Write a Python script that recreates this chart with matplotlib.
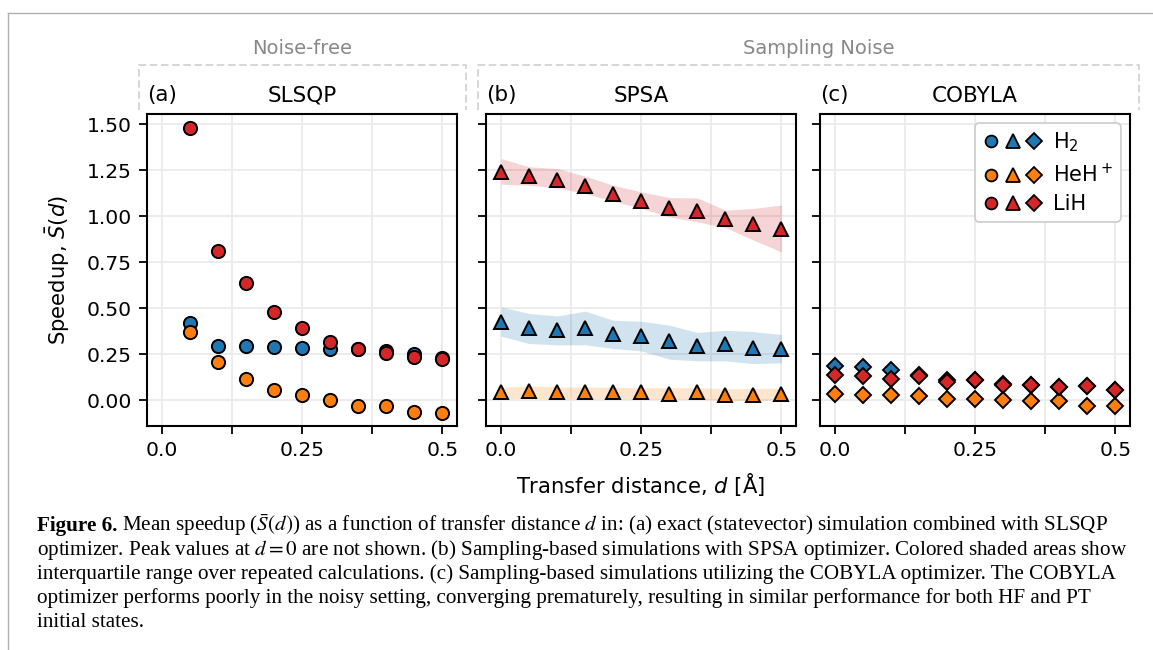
import matplotlib
matplotlib.use("Agg")
import matplotlib.pyplot as plt
from matplotlib.lines import Line2D
from matplotlib.legend_handler import HandlerTuple

# ---------------- data ----------------
d_slsqp = [0.05, 0.10, 0.15, 0.20, 0.25, 0.30, 0.35, 0.40, 0.45, 0.50]
slsqp_h2 = [0.417, 0.295, 0.292, 0.290, 0.284, 0.281, 0.276, 0.265, 0.252, 0.228]
slsqp_heh = [0.370, 0.210, 0.116, 0.058, 0.029, 0.000, -0.029, -0.033, -0.065, -0.069]
slsqp_lih = [1.480, 0.810, 0.638, 0.482, 0.390, 0.315, 0.279, 0.255, 0.234, 0.225]

d_noisy = [0.00, 0.05, 0.10, 0.15, 0.20, 0.25, 0.30, 0.35, 0.40, 0.45, 0.50]
spsa_h2 = [0.426, 0.395, 0.384, 0.393, 0.362, 0.348, 0.321, 0.295, 0.304, 0.286, 0.281]
spsa_h2_q3 = [0.507, 0.471, 0.458, 0.484, 0.435, 0.429, 0.408, 0.368, 0.380, 0.373, 0.357]
spsa_h2_q1 = [0.348, 0.308, 0.301, 0.301, 0.281, 0.268, 0.223, 0.214, 0.214, 0.199, 0.203]
spsa_heh = [0.042, 0.051, 0.045, 0.047, 0.042, 0.042, 0.036, 0.045, 0.027, 0.029, 0.036]
spsa_heh_q3 = [0.070, 0.078, 0.072, 0.072, 0.070, 0.068, 0.068, 0.068, 0.062, 0.064, 0.066]
spsa_heh_q1 = [0.010, 0.010, 0.008, 0.008, 0.008, 0.006, 0.006, 0.006, -0.004, -0.002, 0.002]
spsa_lih = [1.241, 1.217, 1.197, 1.165, 1.123, 1.085, 1.043, 1.027, 0.985, 0.955, 0.931]
spsa_lih_q3 = [1.313, 1.268, 1.259, 1.217, 1.168, 1.132, 1.101, 1.099, 1.033, 1.042, 1.060]
spsa_lih_q1 = [1.174, 1.168, 1.154, 1.123, 1.082, 1.042, 0.996, 0.969, 0.938, 0.870, 0.806]

cobyla_h2 = [0.186, 0.181, 0.163, 0.135, 0.108, 0.110, 0.088, 0.085, 0.072, 0.078, 0.058]
cobyla_heh = [0.033, 0.027, 0.030, 0.025, 0.007, 0.007, 0.000, -0.002, -0.005, -0.029, -0.029]
cobyla_lih = [0.136, 0.132, 0.118, 0.132, 0.100, 0.112, 0.083, 0.085, 0.072, 0.080, 0.058]

molecules = ["H$_2$", "HeH$^+$", "LiH"]
colors = ["#1f77b4", "#ff7f0e", "#d62728"]
panel_letters = ["(a)", "(b)", "(c)"]
optimizers = ["SLSQP", "SPSA", "COBYLA"]
groups = ["Noise-free", "Sampling Noise"]
x_ticks = [0.0, 0.125, 0.25, 0.375, 0.5]
x_ticklabels = ["0.0", "", "0.25", "", "0.5"]
y_ticks = [0.0, 0.25, 0.5, 0.75, 1.0, 1.25, 1.5]
y_ticklabels = ["0.00", "0.25", "0.50", "0.75", "1.00", "1.25", "1.50"]
xlabel = "Transfer distance, $d$ [Å]"
ylabel = "Speedup, $\\bar{S}(d)$"
caption_bold = "Figure 6."
caption_lines = [
    "Mean speedup ($\\bar{S}(d)$) as a function of transfer distance $d$ in: (a) exact (statevector) simulation combined with SLSQP",
    "optimizer. Peak values at $d = 0$ are not shown. (b) Sampling-based simulations with SPSA optimizer. Colored shaded areas show",
    "interquartile range over repeated calculations. (c) Sampling-based simulations utilizing the COBYLA optimizer. The COBYLA",
    "optimizer performs poorly in the noisy setting, converging prematurely, resulting in similar performance for both HF and PT",
    "initial states.",
]

# ---------------- figure ----------------
W, H = 1153, 650
fig = plt.figure(figsize=(W / 100, H / 100), dpi=100)
fig.patch.set_facecolor("white")


def fx(px):
    return px / W


def fy(py):
    return 1 - py / H


ax_top, ax_bot = 114, 426
lefts = [147, 486, 820]
width = 310
axes = [fig.add_axes([fx(l), fy(ax_bot), width / W, (ax_bot - ax_top) / H]) for l in lefts]

TICK_FS = 14.6
for i, ax in enumerate(axes):
    ax.set_xlim(-0.027, 0.526)
    ax.set_ylim(-0.14, 1.555)
    ax.set_xticks(x_ticks)
    ax.set_xticklabels(x_ticklabels)
    ax.set_yticks(y_ticks)
    if i == 0:
        ax.set_yticklabels(y_ticklabels)
    else:
        ax.set_yticklabels([])
    ax.grid(True, color="#ebebeb", lw=1.3)
    ax.set_axisbelow(True)
    for s in ax.spines.values():
        s.set_linewidth(1.5)
        s.set_color("black")
    ax.tick_params(labelsize=TICK_FS, length=6, width=1.3, pad=5)
    ax.set_title(optimizers[i], fontsize=15.5, pad=9)
    ax.set_title(panel_letters[i], loc="left", fontsize=15.5, pad=9)

ms_o, ms_t, ms_d = 9.5, 10.5, 8.3
mew = 1.4
slsqp_series = [slsqp_h2, slsqp_heh, slsqp_lih]
for vals, c in zip(slsqp_series, colors):
    axes[0].plot(d_slsqp, vals, ls="none", marker="o", ms=ms_o, mfc=c, mec="black", mew=mew, zorder=3)

spsa_series = [(spsa_h2, spsa_h2_q1, spsa_h2_q3), (spsa_heh, spsa_heh_q1, spsa_heh_q3),
               (spsa_lih, spsa_lih_q1, spsa_lih_q3)]
for (m, q1, q3), c in zip(spsa_series, colors):
    axes[1].fill_between(d_noisy, q1, q3, color=c, alpha=0.2, lw=0, zorder=2)
for (m, q1, q3), c in zip(spsa_series, colors):
    axes[1].plot(d_noisy, m, ls="none", marker="^", ms=ms_t, mfc=c, mec="black", mew=mew, zorder=3)

cobyla_series = [cobyla_h2, cobyla_heh, cobyla_lih]
for vals, c in zip(cobyla_series, colors):
    axes[2].plot(d_noisy, vals, ls="none", marker="D", ms=ms_d, mfc=c, mec="black", mew=mew, zorder=3)

handles = []
for c in colors:
    handles.append(tuple(
        Line2D([], [], ls="none", marker=mk, ms=s, mfc=c, mec="black", mew=1.3)
        for mk, s in (("o", 8.5), ("^", 9.5), ("D", 8))
    ))
leg = axes[2].legend(handles, molecules, handler_map={tuple: HandlerTuple(ndivide=None, pad=0.2)},
                     loc="upper right", fontsize=15, handlelength=2.9, handletextpad=0.5,
                     borderpad=0.35, labelspacing=0.4, frameon=True, fancybox=True,
                     edgecolor="#cccccc", framealpha=1.0, borderaxespad=0.45)
leg.get_frame().set_linewidth(1.2)

# axis labels
fig.text(fx(58), fy(270), ylabel, rotation=90, ha="center", va="center", fontsize=15.2)
fig.text(fx(640), fy(485), xlabel, ha="center", va="center", fontsize=15.2)

# group boxes
dash_kw = dict(transform=fig.transFigure, color="#cfcfcf", lw=1.2, ls=(0, (4.5, 2.2)))
fig.add_artist(Line2D([fx(139), fx(139), fx(466), fx(466)], [fy(110), fy(65), fy(65), fy(110)], **dash_kw))
fig.add_artist(Line2D([fx(478), fx(478), fx(1139), fx(1139)], [fy(110), fy(65), fy(65), fy(110)], **dash_kw))
fig.text(fx(302), fy(48), groups[0], ha="center", va="center", fontsize=14, color="#888888")
fig.text(fx(819), fy(48), groups[1], ha="center", va="center", fontsize=14, color="#888888")

# page frame
frame_kw = dict(transform=fig.transFigure, color="#b0b0b0", lw=1.0)
fig.add_artist(Line2D([fx(8), 1.0], [fy(13), fy(13)], **frame_kw))
fig.add_artist(Line2D([fx(8), fx(8)], [fy(13), 0.0], **frame_kw))

# caption
CAP_FS = 15.2
cap_left = 37
cap_kw = dict(family="Liberation Serif", fontsize=CAP_FS, va="baseline", ha="left", math_fontfamily="stix")
base0, step = 531, 24.1
tb = fig.text(fx(cap_left), fy(base0), caption_bold, fontweight="bold", **cap_kw)
fig.canvas.draw()
r = fig.canvas.get_renderer()
bb = tb.get_window_extent(r)
fig.text(fx(bb.x1 + 5), fy(base0), caption_lines[0], **cap_kw)
for k, line in enumerate(caption_lines[1:], start=1):
    fig.text(fx(cap_left), fy(base0 + k * step), line, **cap_kw)

fig.savefig("out.png", dpi=100, facecolor="white")
